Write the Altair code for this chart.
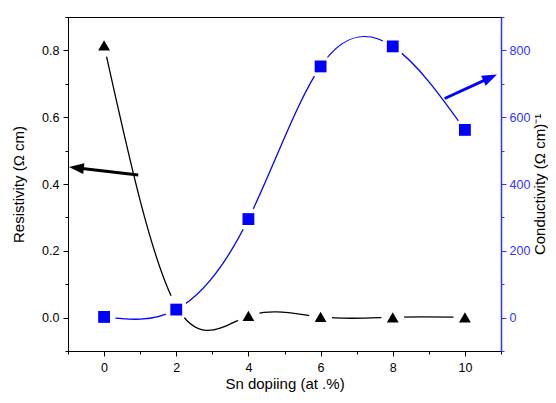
import altair as alt
import pandas as pd

# Data
sn_doping = [0, 2, 4, 6, 8, 10]
resistivity = [0.815, 0.035, 0.005, 0.002, 0.001, 0.001]
conductivity = [2, 24, 295, 752, 812, 562]

# Annotation arrows (data coordinates)
black_arrow_x = [0.947, -0.669]
black_arrow_y = [0.427, 0.447]
black_tip = {"x": -0.975, "y": 0.451, "angle": 276.6}
blue_arrow_x = [9.44, 10.61]
blue_arrow_y = [656, 714]
blue_tip = {"x": 10.89, "y": 728, "angle": 65.2}

FONT = "Liberation Sans"
BLUE = "#0000ff"
AXBLUE = "#3333ff"

df = pd.DataFrame({"x": sn_doping, "res": resistivity, "cond": conductivity})
barrow = pd.DataFrame({"x": black_arrow_x, "res": black_arrow_y})
bluarrow = pd.DataFrame({"x": blue_arrow_x, "cond": blue_arrow_y})
btip = pd.DataFrame([{"x": black_tip["x"], "res": black_tip["y"], "angle": black_tip["angle"]}])
ltip = pd.DataFrame([{"x": blue_tip["x"], "cond": blue_tip["y"], "angle": blue_tip["angle"]}])

xscale = alt.Scale(domain=[-1, 11], nice=False, zero=False)
yl_scale = alt.Scale(domain=[-0.1, 0.9], nice=False, zero=False)
yr_scale = alt.Scale(domain=[-100, 900], nice=False, zero=False)

x_axis = alt.Axis(
    values=list(range(-1, 12)),
    labelExpr="datum.value % 2 == 0 ? datum.value : ''",
    tickSize={"condition": {"test": "datum.value % 2 == 0", "value": 5}, "value": 3},
    grid=False, domainColor="black", tickColor="black", labelColor="black",
    labelFont=FONT, labelFontSize=12.5, labelPadding=5,
    title="Sn dopiing (at .%)", titleFont=FONT, titleFontSize=15,
    titleFontWeight="normal", titleColor="black", titlePadding=3,
)

yl_axis = alt.Axis(
    values=[round(-0.1 + 0.1 * i, 1) for i in range(11)],
    labelExpr="round(datum.value*10) % 2 == 0 ? format(datum.value, '.1f') : ''",
    tickSize={"condition": {"test": "round(datum.value*10) % 2 == 0", "value": 5}, "value": 3},
    orient="left", grid=False, domainColor="black", tickColor="black",
    labelColor="black", labelFont=FONT, labelFontSize=12.5, labelPadding=4,
    title="Resistivity (Ω cm)", titleFont=FONT, titleFontSize=15,
    titleFontWeight="normal", titleColor="black", titlePadding=15,
)

yr_axis = alt.Axis(
    values=list(range(-100, 1000, 100)),
    labelExpr="datum.value % 200 == 0 ? datum.value : ''",
    tickSize={"condition": {"test": "datum.value % 200 == 0", "value": 5}, "value": 3},
    orient="right", grid=False, domainColor=AXBLUE, domainWidth=1.5,
    tickColor=AXBLUE, labelColor=AXBLUE, labelFont=FONT, labelFontSize=12.5,
    labelPadding=3,
    title="Conductivity (Ω cm)⁻¹", titleFont=FONT, titleFontSize=15,
    titleFontWeight="normal", titleColor="black", titlePadding=3,
    titleAngle=270, titleBaseline="top",
)

X = alt.X("x:Q", scale=xscale, axis=x_axis)
YL = alt.Y("res:Q", scale=yl_scale, axis=yl_axis)
YR = alt.Y("cond:Q", scale=yr_scale, axis=yr_axis)
ARROW = "M0,0L0.36,1L-0.36,1Z"

# Left (resistivity) layers
b_line = alt.Chart(df).mark_line(color="black", strokeWidth=1.3, interpolate="natural").encode(x=X, y=YL)
b_halo = alt.Chart(df).mark_point(shape="circle", filled=True, color="white", size=520, opacity=1).encode(x=X, y=YL)
b_pts = alt.Chart(df).mark_point(shape="triangle-up", filled=True, color="black", size=140, opacity=1).encode(x=X, y=YL)
b_shaft = alt.Chart(barrow).mark_line(color="black", strokeWidth=3).encode(x=X, y=YL)
b_head = alt.Chart(btip).mark_point(shape=ARROW, filled=True, color="black", size=900, opacity=1).encode(
    x=X, y=YL, angle=alt.Angle("angle:Q", scale=None))
left = alt.layer(b_line, b_halo, b_pts, b_shaft, b_head)

# Right (conductivity) layers
u_line = alt.Chart(df).mark_line(color=BLUE, strokeWidth=1.3, interpolate="natural").encode(x=X, y=YR)
u_halo = alt.Chart(df).mark_point(shape="circle", filled=True, color="white", size=520, opacity=1).encode(x=X, y=YR)
u_pts = alt.Chart(df).mark_point(shape="square", filled=True, color=BLUE, size=140, opacity=1).encode(x=X, y=YR)
u_shaft = alt.Chart(bluarrow).mark_line(color=BLUE, strokeWidth=3).encode(x=X, y=YR)
u_head = alt.Chart(ltip).mark_point(shape=ARROW, filled=True, color=BLUE, size=900, opacity=1).encode(
    x=X, y=YR, angle=alt.Angle("angle:Q", scale=None))
right = alt.layer(u_line, u_halo, u_pts, u_shaft, u_head)

chart = alt.layer(left, right).resolve_scale(y="independent").properties(
    width=433, height=334,
    autosize="none",
    padding={"left": 60, "top": 9, "right": 47, "bottom": 44},
    background="white",
).configure_view(stroke="black", strokeWidth=1)

chart.save("out.html", embed_options={"renderer": "svg", "actions": False})
